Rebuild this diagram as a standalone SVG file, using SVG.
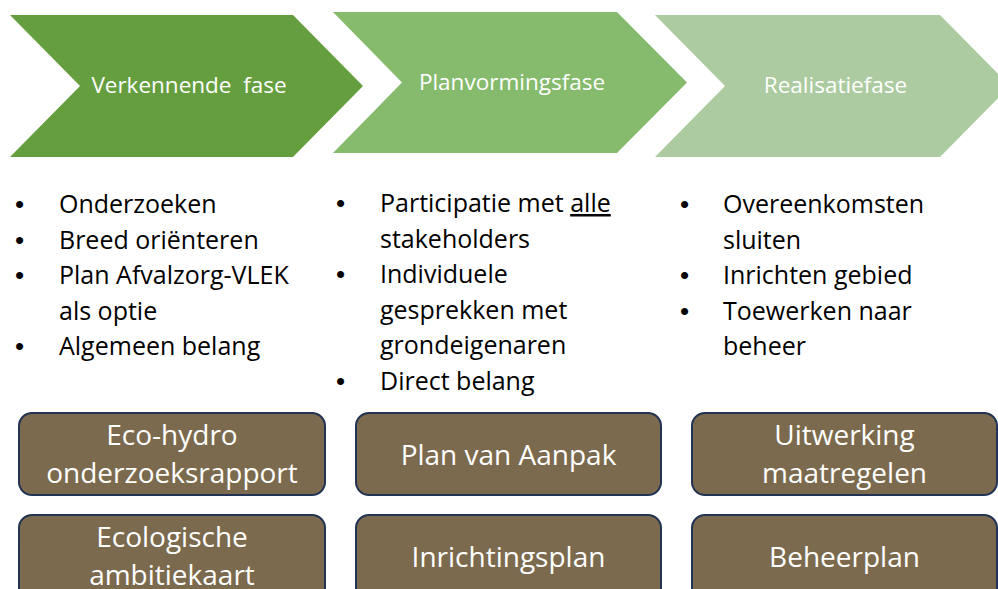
<svg xmlns="http://www.w3.org/2000/svg" width="998" height="589" viewBox="0 0 998 589">
<style>
.ph{font-family:"Open Sans","Liberation Sans",sans-serif;font-size:22.5px;fill:#fff;text-anchor:middle;white-space:pre}
.bl{font-family:"Open Sans","Liberation Sans",sans-serif;font-size:25px;fill:#000}
.dot{font-family:"Liberation Sans",Arial,sans-serif;font-size:26px;fill:#000}
.bx{fill:#7B6A4D;stroke:#223354;stroke-width:2}
.bt{font-family:"Open Sans","Liberation Sans",sans-serif;font-size:28px;fill:#fff;text-anchor:middle}
</style>
<rect width="998" height="589" fill="#fff"/>
<g id="phase1">
<polygon points="10,15 293,15 363,86 293,157 10,157 80,86" fill="#659E3F"/>
<text class="ph" x="189" y="93">Verkennende  fase</text>
</g>
<g id="phase2">
<polygon points="333,12 617,12 687,82.5 617,153 333,153 402,82.5" fill="#86BA6C"/>
<text class="ph" x="512" y="90">Planvormingsfase</text>
</g>
<g id="phase3">
<polygon points="655,15 940,15 1010,86 940,157 655,157 725,86" fill="#ADCBA0"/>
<text class="ph" x="835.5" y="93">Realisatiefase</text>
</g>
<g id="bullets1" class="bl">
<text class="dot" x="15" y="213">•</text><text x="59" y="213">Onderzoeken</text>
<text class="dot" x="15" y="248.5">•</text><text x="59" y="248.5">Breed oriënteren</text>
<text class="dot" x="15" y="284">•</text><text x="59" y="284">Plan Afvalzorg-VLEK</text>
<text x="59" y="319.5">als optie</text>
<text class="dot" x="15" y="355">•</text><text x="59" y="355">Algemeen belang</text>
</g>
<g id="bullets2" class="bl">
<text class="dot" x="336" y="212">•</text><text x="380" y="212">Participatie met <tspan text-decoration="underline">alle</tspan></text>
<text x="380" y="247.5">stakeholders</text>
<text class="dot" x="336" y="283">•</text><text x="380" y="283">Individuele</text>
<text x="380" y="318.5">gesprekken met</text>
<text x="380" y="354">grondeigenaren</text>
<text class="dot" x="336" y="389.5">•</text><text x="380" y="389.5">Direct belang</text>
</g>
<g id="bullets3" class="bl">
<text class="dot" x="680" y="213">•</text><text x="723" y="213">Overeenkomsten</text>
<text x="723" y="248.5">sluiten</text>
<text class="dot" x="680" y="284">•</text><text x="723" y="284">Inrichten gebied</text>
<text class="dot" x="680" y="319.5">•</text><text x="723" y="319.5">Toewerken naar</text>
<text x="723" y="355">beheer</text>
</g>
<g id="box-ecohydro">
<rect class="bx" x="19" y="413" width="306" height="82" rx="13"/>
<text class="bt" x="172" y="445">Eco-hydro</text>
<text class="bt" x="172" y="483">onderzoeksrapport</text>
</g>
<g id="box-planvanaanpak">
<rect class="bx" x="356" y="413" width="305" height="82" rx="13"/>
<text class="bt" x="508.5" y="465">Plan van Aanpak</text>
</g>
<g id="box-uitwerking">
<rect class="bx" x="692" y="413" width="305" height="82" rx="13"/>
<text class="bt" x="844.5" y="445">Uitwerking</text>
<text class="bt" x="844.5" y="483">maatregelen</text>
</g>
<g id="box-ecologische">
<rect class="bx" x="19" y="515" width="306" height="90" rx="13"/>
<text class="bt" x="172" y="547">Ecologische</text>
<text class="bt" x="172" y="585">ambitiekaart</text>
</g>
<g id="box-inrichtingsplan">
<rect class="bx" x="356" y="515" width="305" height="90" rx="13"/>
<text class="bt" x="508.5" y="567">Inrichtingsplan</text>
</g>
<g id="box-beheerplan">
<rect class="bx" x="692" y="515" width="305" height="90" rx="13"/>
<text class="bt" x="844.5" y="567">Beheerplan</text>
</g>
<g id="connectors"></g>
</svg>
